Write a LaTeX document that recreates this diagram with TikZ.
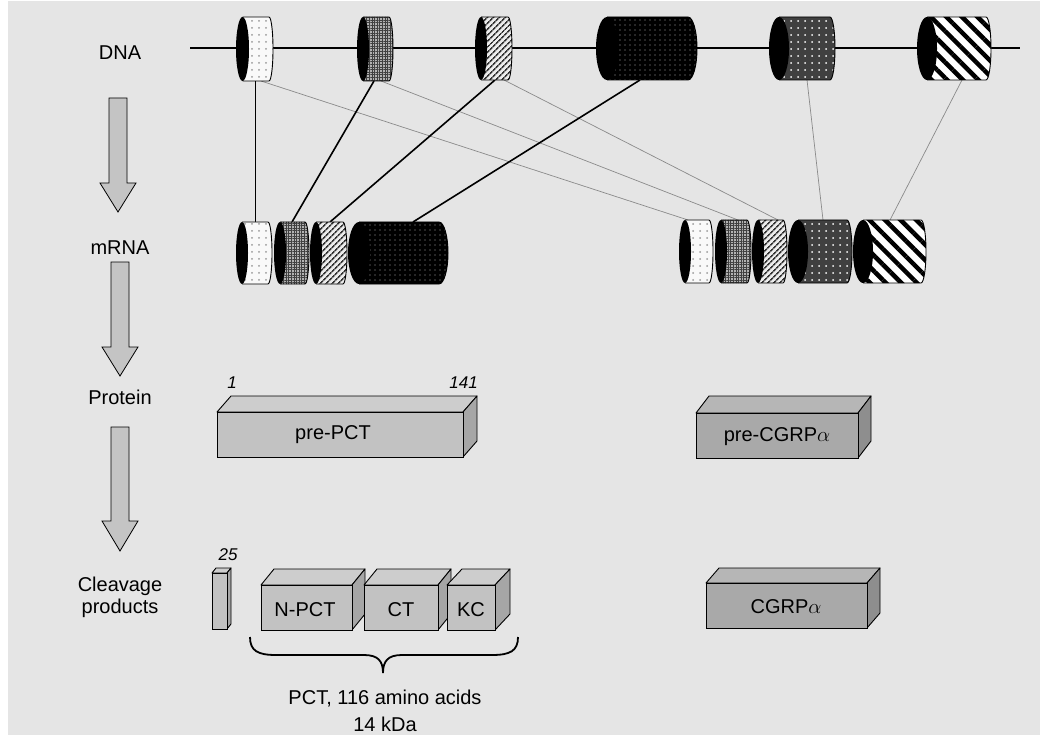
\documentclass[tikz,border=0pt]{standalone}
\usepackage{fontspec}
\setmainfont{Liberation Sans}
\usetikzlibrary{patterns.meta}
\definecolor{bg}{HTML}{E5E5E5}
\definecolor{arrowgray}{HTML}{C4C4C4}
\definecolor{pfront}{HTML}{C2C2C2}
\definecolor{ptop}{HTML}{CDCDCD}
\definecolor{pside}{HTML}{A6A6A6}
\definecolor{cfront}{HTML}{A9A9A9}
\definecolor{ctop}{HTML}{B6B6B6}
\definecolor{cside}{HTML}{8E8E8E}
\definecolor{thingray}{HTML}{8A8A8A}

\newcommand\exon[7]{% #1 L, #2 R, #3 T, #4 B, #5 cap rx, #6 bulge, #7 fill style
  \pgfmathsetmacro\exry{(#4-#3)/2}%
  \pgfmathsetmacro\excy{(#3+#4)/2}%
  \pgfmathsetmacro\excx{#1+#5}%
  \pgfmathsetmacro\exbx{#2-#6}%
  \path[#7] (\excx,#3) -- (\exbx,#3) arc[start angle=-90,end angle=90,x radius=#6,y radius=\exry] -- (\excx,#4) -- cycle;
  \draw[line width=0.9pt] (\excx,#3) -- (\exbx,#3) arc[start angle=-90,end angle=90,x radius=#6,y radius=\exry] -- (\excx,#4);
  \fill[black] (\excx,\excy) ellipse[x radius=#5, y radius=\exry];
}
\newcommand\prism[9]{% #1 L, #2 R, #3 T, #4 B, #5 dx, #6 dy, #7 front, #8 top, #9 side
  \filldraw[line width=0.9pt, fill=#8, line join=round] (#1,#3) -- (#1+#5,#3-#6) -- (#2+#5,#3-#6) -- (#2,#3) -- cycle;
  \filldraw[line width=0.9pt, fill=#9, line join=round] (#2,#3) -- (#2+#5,#3-#6) -- (#2+#5,#4-#6) -- (#2,#4) -- cycle;
  \filldraw[line width=0.9pt, fill=#7] (#1,#3) rectangle (#2,#4);
}
\newcommand\blockarrow[5]{% #1 cx, #2 top, #3 headstart, #4 tip, #5 name
  \filldraw[fill=arrowgray, line width=0.8pt, line join=miter]
    (#1-9,#2) -- (#1+9,#2) -- (#1+9,#3) -- (#1+18,#3) -- (#1,#4) -- (#1-18,#3) -- (#1-9,#3) -- cycle;
  \coordinate (#5) at (#1,#4);
}

\tikzset{
  lbl/.style={font=\fontsize{20}{23}\selectfont, inner sep=0pt},
  num/.style={font=\fontsize{17}{19}\selectfont\itshape, inner sep=0pt},
  thickcon/.style={line width=1.6pt},
  thincon/.style={line width=0.8pt},
  graycon/.style={line width=0.7pt, draw=thingray},
  ex1/.style={preaction={fill=white!95!gray}, pattern={Dots[radius=1pt, distance=7pt]}, pattern color=gray!80},
  ex2/.style={preaction={fill=gray!60}, pattern={Hatch[angle=0, distance=2.6pt, line width=0.5pt]}, pattern color=black!75},
  ex3/.style={preaction={fill=white!85!gray}, pattern={Lines[angle=45, distance=4pt, line width=1.7pt]}, pattern color=black!80},
  ex4/.style={preaction={fill=black}, pattern={Dots[radius=0.6pt, distance=5pt]}, pattern color=gray!70},
  ex5/.style={preaction={fill=black!75}, pattern={Dots[radius=1pt, distance=7pt]}, pattern color=white},
  ex6/.style={preaction={fill=white}, pattern={Lines[angle=-45, distance=11pt, line width=4.5pt]}, pattern color=black},
}

\begin{document}
\begin{tikzpicture}[x=1pt, y=-1pt]
\useasboundingbox (0,0) rectangle (1040,735);
\fill[white] (0,0) rectangle (1040,735);
\fill[bg] (8,1) rectangle (1040,735);

% row labels
\node[lbl] (dna) at (120,53) {DNA};
\node[lbl] (mrna) at (120,248) {mRNA};
\node[lbl] (protein) at (120,397) {Protein};
\node[lbl, align=center] (cleav) at (120,597) {Cleavage\\[-1pt]products};

% block arrows
\blockarrow{118}{98}{183}{212}{a1}
\blockarrow{120}{262}{347}{376}{a2}
\blockarrow{120}{427}{521}{551}{a3}

% DNA strand
\coordinate (dnaL) at (190,48);
\coordinate (dnaR) at (1020,48);
\draw[line width=1.2pt] (dnaL) -- (dnaR);

% connector endpoints
\coordinate (d1b) at (255,81);
\coordinate (d1g) at (261,81);
\coordinate (d2b) at (374,81);
\coordinate (d2g) at (381,81);
\coordinate (d3b) at (495,80);
\coordinate (d3g) at (504,80);
\coordinate (d4b) at (640,80);
\coordinate (d5b) at (807,80);
\coordinate (d6b) at (962,80);
\coordinate (m1t) at (255,222);
\coordinate (m2t) at (292,222);
\coordinate (m3t) at (330,222);
\coordinate (m4t) at (413,222);
\coordinate (r1t) at (688,220);
\coordinate (r2t) at (738,220);
\coordinate (r3t) at (778,220);
\coordinate (r5t) at (823,220);
\coordinate (r6t) at (890,220);

% connectors
\draw[graycon] (d1g) -- (r1t);
\draw[graycon] (d2g) -- (r2t);
\draw[graycon] (d3g) -- (r3t);
\draw[graycon] (d5b) -- (r5t);
\draw[graycon] (d6b) -- (r6t);
\draw[thincon] (d1b) -- (m1t);
\draw[thickcon] (d2b) -- (m2t);
\draw[thickcon] (d3b) -- (m3t);
\draw[thickcon] (d4b) -- (m4t);

% DNA exons
\exon{236}{273}{17}{81}{6.5}{4}{ex1}
\exon{357}{393}{17}{81}{6}{4}{ex2}
\exon{475}{512}{17}{80}{6}{4}{ex3}
\exon{596}{697}{17}{80}{11}{9}{ex4}
\exon{769}{835}{17}{80}{10}{5}{ex5}
\exon{917}{991}{17}{80}{10}{5}{ex6}

% mRNA left
\exon{236}{272}{222}{284}{6}{4}{ex1}
\exon{274}{309}{222}{284}{6}{4}{ex2}
\exon{310}{347}{222}{284}{6}{4}{ex3}
\exon{348}{448}{222}{284}{11}{9}{ex4}

% mRNA right
\exon{679}{713}{220}{283}{6}{4}{ex1}
\exon{715}{751}{220}{283}{6}{4}{ex2}
\exon{752}{787}{220}{283}{6}{4}{ex3}
\exon{788}{852}{220}{283}{10}{5}{ex5}
\exon{853}{926}{220}{283}{10}{5}{ex6}

% proteins
\prism{217}{463}{412}{457}{14}{16}{pfront}{ptop}{pside}
\node[lbl] (prepct) at (333,435) {pre-PCT};
\node[num] (n1) at (232,383) {1};
\node[num, anchor=east] (n141) at (478,383) {141};

\prism{696}{858}{413}{458}{13}{17}{cfront}{ctop}{cside}
\node[lbl] (precgrp) at (777,437) {pre-CGRP$\alpha$};

% cleavage products
\prism{212}{227}{573}{629}{4}{5}{pfront}{ptop}{pside}
\node[num] (n25) at (228,555) {25};
\prism{261}{352}{585}{630}{13}{16}{pfront}{ptop}{pside}
\prism{364}{438}{585}{630}{13}{16}{pfront}{ptop}{pside}
\prism{447}{495}{585}{630}{15}{16}{pfront}{ptop}{pside}
\node[lbl] (npct) at (305,610) {N-PCT};
\node[lbl] (ct) at (401,610) {CT};
\node[lbl] (kc) at (471,610) {KC};

\prism{706}{867}{583}{628}{13}{15}{cfront}{ctop}{cside}
\node[lbl] (cgrp) at (786,607) {CGRP$\alpha$};

% brace
\draw[line width=1.8pt] (250,637) .. controls (250,651) and (258,655) .. (276,655) -- (364,655)
  .. controls (378,655) and (383,661) .. (383,673)
  .. controls (383,661) and (388,655) .. (402,655) -- (492,655)
  .. controls (510,655) and (518,651) .. (518,637);
\node[lbl] (pct) at (385,699) {PCT, 116 amino acids};
\node[lbl] (kda) at (385,724) {14 kDa};
\end{tikzpicture}
\end{document}
